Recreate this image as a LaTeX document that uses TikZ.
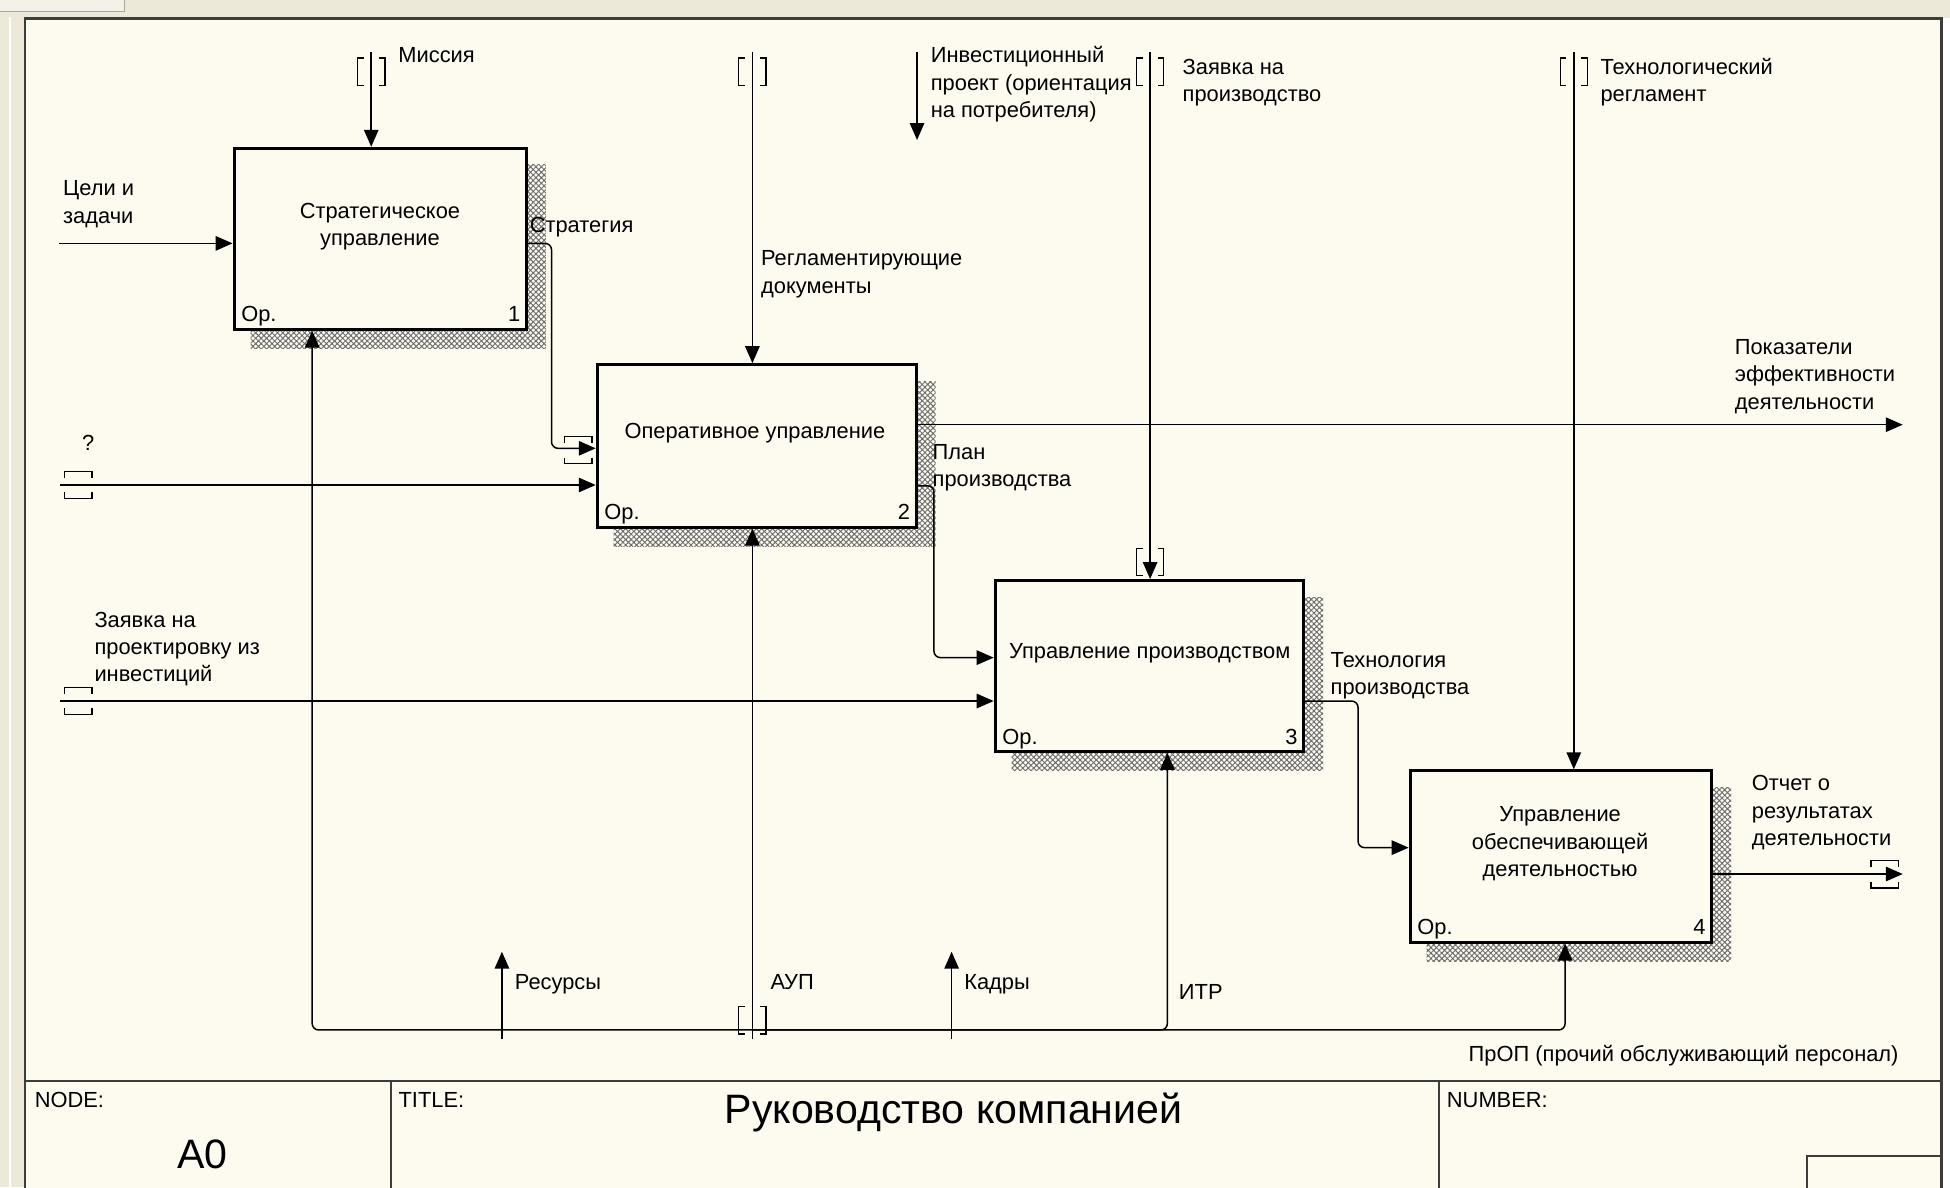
\documentclass[tikz,border=0pt]{standalone}
\usepackage{fontspec}
\setmainfont{Liberation Sans}
\usetikzlibrary{arrows.meta,backgrounds,patterns.meta}

\definecolor{paper}{RGB}{253,250,240}
\definecolor{chrome}{RGB}{236,233,216}
\definecolor{chromeline}{RGB}{172,168,153}
\definecolor{framec}{RGB}{60,60,60}
\definecolor{shade}{RGB}{110,110,110}

\newcommand\lblsize{\fontsize{12.5}{15.65}\selectfont}
\newcommand\titlesize{\fontsize{23.5}{28}\selectfont}

\begin{document}
\begin{tikzpicture}[x=0.025cm, y=-0.025cm,
  every node/.style={inner sep=0pt, outer sep=0pt, font=\lblsize},
  fbox/.style 2 args={draw, line width=1.7pt, fill=paper, anchor=north west,
    outer sep=0.85pt, minimum width=#1*0.025cm, minimum height=#2*0.025cm},
  % multi-line labels are anchored on the baseline of their last line
  lab/.style={anchor=base west, align=left},
  arr/.style={line width=0.85pt, -{Triangle[length=0.34cm,width=0.29cm]}},
  rc/.style={rounded corners=0.13cm},
  brk/.style={line width=0.7pt},
  shadowfill/.style={pattern={Hatch[angle=45,distance=2.2pt,line width=0.55pt]}, pattern color=shade},
  vtun/.pic={\draw[brk] (-6,-11) -- (-11,-11) -- (-11,11) -- (-6,11)
                        (6,-11) -- (11,-11) -- (11,11) -- (6,11);},
  htun/.pic={\draw[brk] (-11,-6) -- (-11,-11) -- (11,-11) -- (11,-6)
                        (-11,6) -- (-11,11) -- (11,11) -- (11,6);}
]
\useasboundingbox (0,0) rectangle (1568,954.5);

% window chrome and sheet
\begin{scope}[on background layer]
  \fill[chrome] (0,0) rectangle (1568,954.5);
  \filldraw[fill=chrome!60!white, draw=chromeline, line width=0.6pt] (-2,-2) rectangle (100,9.5);
  \draw[white, line width=1pt] (8,14) -- (8,954.5);
  \fill[paper] (20,14.7) rectangle (1561,960);
  \fill[white] (1562.5,14.7) rectangle (1568,960);
  \draw[framec, line width=1.4pt] (20,960) -- (20,14.7) -- (1561,14.7) -- (1561,960);
\end{scope}

% title block
\draw[framec, line width=1.1pt] (20,869.2) -- (1561,869.2);
\draw[framec, line width=1pt] (314.4,869.2) -- (314.4,960) (1157,869.2) -- (1157,960);
\draw[framec, line width=1pt] (1453,960) -- (1453,929.6) -- (1561,929.6);
\node[anchor=base west] (tnode) at (28,890.7) {NODE:};
\node[anchor=base, font=\titlesize] (tnum) at (163,939.2) {A0};
\node[anchor=base west] (ttitle) at (320.5,890.7) {TITLE:};
\node[anchor=base, font=\titlesize] (tname) at (766.7,903.4) {Руководство компанией};
\node[anchor=base west] (tnumber) at (1163.5,890.7) {NUMBER:};

% activity boxes
\node[fbox={235}{145.5}] (b1) at (187,118) {};
\node[fbox={256.4}{130.7}] (b2) at (479,292) {};
\node[fbox={248}{137.4}] (b3) at (799,465.6) {};
\node[fbox={242.3}{137.8}] (b4) at (1132.7,618.6) {};

\begin{scope}[on background layer]
  \foreach \b in {b1,b2,b3,b4}
    \fill[shadowfill] ([shift={(14.5,14.5)}]\b.north west) rectangle ([shift={(14.5,14.5)}]\b.south east);
\end{scope}

\node[align=center] (l1) at (305.5,182) {Стратегическое\\управление};
\node (l2) at (607,348.5) {Оперативное управление};
\node (l3) at (924.5,525.2) {Управление производством};
\node[align=center] (l4) at (1254.5,678.5) {Управление\\обеспечивающей\\деятельностью};

\foreach \b/\n in {b1/1,b2/2,b3/3,b4/4}{
  \node[anchor=base west] (\b op) at ([shift={(7,-7)}]\b.south west) {Ор.};
  \node[anchor=base east] (\b no) at ([shift={(-6,-7)}]\b.south east) {\n};
}

% controls from the top
\coordinate (misT) at (298.5,41.5);
\draw[arr] (misT) -- (misT |- b1.north);
\pic at (298.5,57.6) {vtun};
\node[lab] (tmis) at (320.4,50.4) {Миссия};

\coordinate (regT) at (605,41.5);
\draw[arr] (regT) -- (regT |- b2.north);
\pic at (605,57.6) {vtun};
\node[lab] (treg) at (612,235.9) {Регламентирующие\\документы};

\coordinate (invT) at (737.4,41.5);
\coordinate (invE) at (737.4,112.6);
\draw[arr] (invT) -- (invE);
\node[lab] (tinv) at (748.5,94.4) {Инвестиционный\\проект (ориентация\\на потребителя)};

\coordinate (zpT) at (924.8,41.5);
\draw[arr] (zpT) -- (zpT |- b3.north);
\pic at (924.8,57.6) {vtun};
\pic at (924.8,452) {vtun};
\node[lab] (tzp) at (951,81.8) {Заявка на\\производство};

\coordinate (trT) at (1265.5,41.5);
\draw[arr] (trT) -- (trT |- b4.north);
\pic at (1265.5,57.6) {vtun};
\node[lab] (ttr) at (1287,81.8) {Технологический\\регламент};

% inputs
\coordinate (celL) at (47.7,195.7);
\draw[arr] (celL) -- (celL -| b1.west);
\node[lab] (tcel) at (50.8,179.5) {Цели и\\задачи};

\coordinate (qL) at (48,390);
\draw[arr] (qL) -- (qL -| b2.west);
\pic at (63,390) {htun};
\node[lab] (tq) at (66,362.5) {?};

\coordinate (zprL) at (48,563.7);
\draw[arr] (zprL) -- (zprL -| b3.west);
\pic at (63,563.7) {htun};
\node[lab] (tzpr) at (76,548.2) {Заявка на\\проектировку из\\инвестиций};

% links between activities
\coordinate (strB) at (443.5,195.7);
\coordinate (strE) at (443.5,360.5);
\draw[arr, rc] (strB -| b1.east) -- (strB) -- (strE) -- (strE -| b2.west);
\pic at (465,362) {htun};
\node[lab] (tstr) at (426,187.1) {Стратегия};

\coordinate (plB) at (751,390.6);
\coordinate (plE) at (751,528.8);
\draw[arr, rc] (plB -| b2.east) -- (plB) -- (plE) -- (plE -| b3.west);
\node[lab] (tpl) at (750,391.5) {План\\производства};

\coordinate (teB) at (1092,563.7);
\coordinate (teE) at (1092,681.6);
\draw[arr, rc] (teB -| b3.east) -- (teB) -- (teE) -- (teE -| b4.west);
\node[lab] (tte) at (1070,558.5) {Технология\\производства};

% outputs
\coordinate (pkE) at (1530,341.5);
\draw[arr] (pkE -| b2.east) -- (pkE);
\node[lab] (tpk) at (1395,328.9) {Показатели\\эффективности\\деятельности};

\coordinate (otE) at (1530,702.8);
\draw[arr] (otE -| b4.east) -- (otE);
\pic at (1515.5,703) {htun};
\node[lab] (tot) at (1408.7,680) {Отчет о\\результатах\\деятельности};

% mechanisms
\coordinate (aupB) at (605,835.5);
\coordinate (bus) at (605,828.2);
\coordinate (m1) at (251,828.2);
\coordinate (m3) at (938.7,828.2);
\coordinate (m4) at (1258.5,828.2);
\draw[arr] (aupB) -- (aupB |- b2.south);
\draw[arr, rc] (bus) -- (m1) -- (m1 |- b1.south);
\draw[arr, rc] (bus) -- (m3) -- (m3 |- b3.south);
\draw[arr, rc] (bus) -- (m4) -- (m4 |- b4.south);
\pic at (605,820.5) {vtun};
\node[lab] (taup) at (619.6,795.5) {АУП};
\node[lab] (titr) at (948,803.5) {ИТР};
\node[lab] (tprop) at (1181,853.2) {ПрОП (прочий обслуживающий персонал)};

\coordinate (resB) at (403.6,835.5);
\coordinate (resE) at (403.6,765.3);
\draw[arr] (resB) -- (resE);
\node[lab] (tres) at (414,795.5) {Ресурсы};

\coordinate (kadB) at (765.2,835.5);
\coordinate (kadE) at (765.2,765.3);
\draw[arr] (kadB) -- (kadE);
\node[lab] (tkad) at (775.4,795.5) {Кадры};
\end{tikzpicture}
\end{document}
